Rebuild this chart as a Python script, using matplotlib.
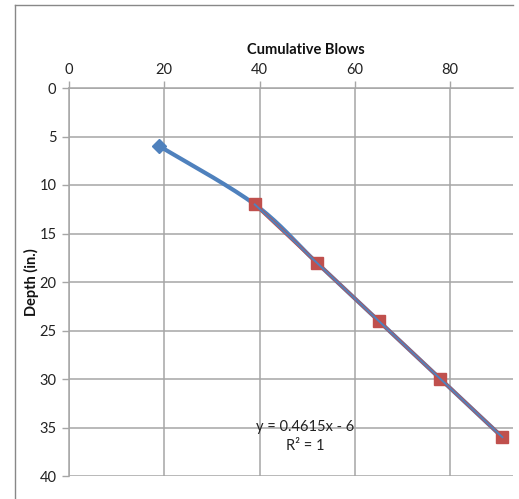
import numpy as np
import matplotlib
matplotlib.use("Agg")
import matplotlib.pyplot as plt
from matplotlib.lines import Line2D

# Penetration test record
blows_all = [19, 39, 52, 65, 78, 91]
depth_all = [6, 12, 18, 24, 30, 36]
blows_fit = [39, 52, 65, 78, 91]
depth_fit = [12, 18, 24, 30, 36]
x_ticks = [0, 20, 40, 60, 80]
y_ticks = [0, 5, 10, 15, 20, 25, 30, 35, 40]

BLUE = "#4F81BD"
RED = "#C0504D"
GRID = "#A6A6A6"

plt.rcParams["font.family"] = ["Lato", "DejaVu Sans"]


def smooth(xs, ys, n=30):
    """Cardinal (Catmull-Rom style) Bezier smoothing through the points."""
    p = np.column_stack([xs, ys]).astype(float)
    out = []
    for i in range(len(p) - 1):
        p0 = p[i - 1] if i > 0 else p[i]
        p1, p2 = p[i], p[i + 1]
        p3 = p[i + 2] if i + 2 < len(p) else p[i + 1]
        c1 = p1 + (p2 - p0) / 6.0
        c2 = p2 - (p3 - p1) / 6.0
        t = np.linspace(0, 1, n)[:, None]
        seg = ((1 - t) ** 3) * p1 + 3 * ((1 - t) ** 2) * t * c1 + 3 * (1 - t) * t ** 2 * c2 + t ** 3 * p2
        out.append(seg if i == 0 else seg[1:])
    s = np.vstack(out)
    return s[:, 0], s[:, 1]


W, H = 519, 499
fig = plt.figure(figsize=(W / 100, H / 100), dpi=100)
fig.patch.set_facecolor("white")

left, right, top, bottom = 69, 513, 88, 476
ax = fig.add_axes([left / W, 1 - bottom / H, (right - left) / W, (bottom - top) / H])

ax.set_xlim(0, (right - left) / 4.7625)
ax.set_ylim(40, 0)
ax.set_xticks(x_ticks)
ax.set_yticks(y_ticks)
ax.xaxis.tick_top()
ax.xaxis.set_label_position("top")
ax.tick_params(axis="both", colors=GRID, labelcolor="#222222", labelsize=10.5,
               length=5, width=1, direction="out")
ax.tick_params(axis="x", pad=3)
ax.tick_params(axis="y", pad=4)
ax.grid(True, color=GRID, linewidth=1.1)
ax.set_axisbelow(True)
for side in ("right", "bottom"):
    ax.spines[side].set_visible(False)
for side in ("left", "top"):
    ax.spines[side].set_color(GRID)
    ax.spines[side].set_linewidth(1.1)

ax.set_xlabel("Cumulative Blows", fontsize=10.5, fontweight="bold", color="#111111")
ax.xaxis.set_label_coords((306 - left) / (right - left), (bottom - 54) / (bottom - top))
ax.set_ylabel("Depth (in.)", fontsize=10.5, fontweight="bold", color="#111111")
ax.yaxis.set_label_coords(-(left - 39) / (right - left), 0.5)

# full record, smoothed
sx, sy = smooth(blows_all, depth_all)
ax.plot(sx, sy, color=BLUE, linewidth=3, solid_capstyle="round", zorder=2)
ax.plot(blows_all[:1], depth_all[:1], marker="D", color=BLUE, markersize=7, linestyle="none", zorder=3)

# linear portion with fitted trendline
ax.plot(blows_fit, depth_fit, marker="s", color=RED, markersize=8.5, linestyle="none", zorder=4)
coef = np.polyfit(blows_fit, depth_fit, 1)
tx = np.array([blows_fit[0], blows_fit[-1]])
ax.plot(tx, np.polyval(coef, tx), color=RED, linewidth=2.4, zorder=5)
fx, fy = smooth(blows_fit, depth_fit)
ax.plot(fx, fy, color=BLUE, linewidth=1.4, zorder=6)

ax.text(49.6, 35.9, f"y = {coef[0]:.4f}x - {abs(coef[1]):.0f}\nR² = 1",
        ha="center", va="center", fontsize=10.5, color="#222222",
        linespacing=1.45, zorder=7)

# chart frame
fig.add_artist(Line2D([15 / W, 15 / W], [0, 1 - 5 / H], transform=fig.transFigure,
                      color="#888888", linewidth=1))
fig.add_artist(Line2D([15 / W, 513 / W], [1 - 5 / H, 1 - 5 / H], transform=fig.transFigure,
                      color="#888888", linewidth=1))

fig.savefig("out.png", dpi=100, facecolor="white")
